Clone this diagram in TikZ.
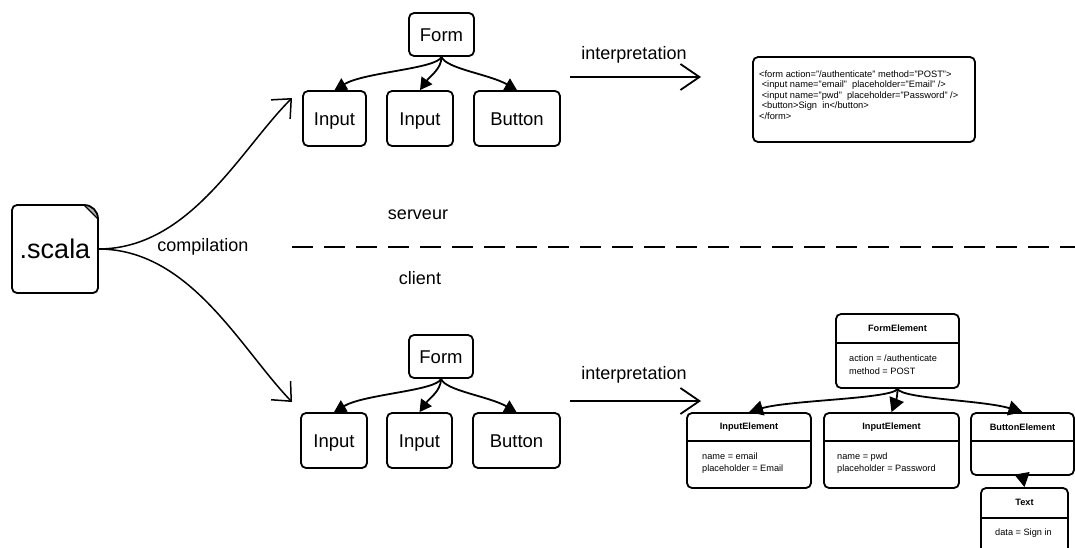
\documentclass[tikz,border=0pt]{standalone}
\usepackage{fontspec}
\setmainfont{Liberation Sans}
\usetikzlibrary{arrows.meta}
\begin{document}
\begin{tikzpicture}[x=1pt,y=-1pt,
  box/.style={draw, line width=1.8pt, rounded corners=5pt, inner sep=0pt, text height=13.3pt, text depth=0pt, font=\fontsize{18.5}{22}\selectfont},
  dbox/.style={draw, line width=1.8pt, rounded corners=5pt, inner sep=0pt},
  divider/.style={line width=1.8pt},
  lbl/.style={inner sep=0pt, font=\fontsize{18}{22}\selectfont},
  small/.style={inner sep=0pt, font=\fontsize{9.2}{12.5}\selectfont, align=left},
  title/.style={inner sep=0pt, font=\fontsize{9.2}{11}\selectfont\bfseries},
  curve/.style={line width=1.5pt, -{Straight Barb[length=15pt,width=27pt,line width=1.5pt]}},
  openarrow/.style={line width=1.8pt, -{Straight Barb[length=19pt,width=26pt,line width=1.8pt]}},
  tree/.style={line width=1.8pt, -{Triangle[length=12pt,width=13pt]}},
  dtree/.style={line width=1.8pt, -{Triangle[length=14pt,width=15pt]}}
]
\clip (0,0) rectangle (1075,548);
\fill[white] (0,0) rectangle (1075,548);

% .scala file
\node[inner sep=0pt, minimum width=86pt, minimum height=88pt, text height=19.5pt, text depth=0pt, font=\fontsize{27}{30}\selectfont] (scala) at (55,249) {.scala};
\fill[gray!60] (84,205) .. controls (92,205) and (98,211) .. (98,219) -- cycle;
\draw[line width=1.8pt, rounded corners=5pt] (84,205) -- (12,205) -- (12,293) -- (98,293) -- (98,219);
\draw[line width=1.8pt] (84,205) .. controls (92,205) and (98,211) .. (98,219);
\draw[line width=1.2pt] (84,205) -- (98,219);

\coordinate (topend) at (292,98);
\coordinate (botend) at (292,402);
\draw[curve] (scala.east) .. controls (190,249) and (240,150) .. (topend);
\draw[curve] (scala.east) .. controls (190,249) and (240,348) .. (botend);
\node[lbl] (comp) at (203,247) {compilation};

% separator
\coordinate (sepL) at (292,247);
\coordinate (sepR) at (1075,247);
\draw[line width=2pt, dash pattern=on 21pt off 11pt] (sepL) -- (sepR);
\node[lbl] (serveur) at (418,215) {serveur};
\node[lbl] (client) at (420,278) {client};

% top tree
\node[box, minimum width=65pt, minimum height=43pt] (f1) at (441.5,34.5) {Form};
\node[box, minimum width=63pt, minimum height=55pt] (a1) at (334.5,118.5) {Input};
\node[box, minimum width=66pt, minimum height=55pt] (b1) at (420,118.5) {Input};
\node[box, minimum width=86pt, minimum height=55pt] (c1) at (517,118.5) {Button};
\draw[tree] (f1.south) .. controls +(-5,12) and +(30,-18) .. (a1.north);
\draw[tree] (f1.south) .. controls +(0,12) and +(10,-14) .. (b1.north);
\draw[tree] (f1.south) .. controls +(5,12) and +(-28,-16) .. (c1.north);

% bottom tree
\node[box, minimum width=64pt, minimum height=43pt] (f2) at (441,356.5) {Form};
\node[box, minimum width=66pt, minimum height=55pt] (a2) at (334,440.5) {Input};
\node[box, minimum width=65pt, minimum height=55pt] (b2) at (419.5,440.5) {Input};
\node[box, minimum width=87pt, minimum height=55pt] (c2) at (516.5,440.5) {Button};
\draw[tree] (f2.south) .. controls +(-5,12) and +(30,-18) .. (a2.north);
\draw[tree] (f2.south) .. controls +(0,12) and +(10,-14) .. (b2.north);
\draw[tree] (f2.south) .. controls +(5,12) and +(-28,-16) .. (c2.north);

% interpretation arrows
\coordinate (i1s) at (570,77);
\coordinate (i1e) at (701,77);
\draw[openarrow] (i1s) -- (i1e);
\node[lbl] (interp1) at (634,55) {interpretation};
\coordinate (i2s) at (570,401);
\coordinate (i2e) at (701,401);
\draw[openarrow] (i2s) -- (i2e);
\node[lbl] (interp2) at (634,375) {interpretation};

% HTML box
\node[dbox, minimum width=222pt, minimum height=85pt] (html) at (864,99.5) {};
\node[small, anchor=north west, font=\fontsize{9.3}{10.4}\selectfont] (htmltext) at (759,70.5)
 {<form action="/authenticate" method="POST">\\
 \ <input name="email"\ \ placeholder="Email" />\\
 \ <input name="pwd"\ \ placeholder="Password" />\\
 \ <button>Sign\ \ in</button>\\
 </form>};

% DOM tree
\node[dbox, minimum width=123pt, minimum height=74pt] (fe) at (897.5,351) {};
\draw[divider] (fe.west |- 0,343) -- (fe.east |- 0,343);
\node[title] (fet) at (897.5,328) {FormElement};
\node[small, anchor=west] (fea) at (849,364.5) {action = /authenticate\\method = POST};

\node[dbox, minimum width=124pt, minimum height=75pt] (ie1) at (749,450.5) {};
\draw[divider] (ie1.west |- 0,441) -- (ie1.east |- 0,441);
\node[title] (ie1t) at (749,427) {InputElement};
\node[small, anchor=west] (ie1a) at (702,463) {name = email\\placeholder = Email};

\node[dbox, minimum width=135pt, minimum height=75pt] (ie2) at (891.5,450.5) {};
\draw[divider] (ie2.west |- 0,441) -- (ie2.east |- 0,441);
\node[title] (ie2t) at (891.5,427) {InputElement};
\node[small, anchor=west] (ie2a) at (837,463) {name = pwd\\placeholder = Password};

\node[dbox, minimum width=103pt, minimum height=62pt] (be) at (1022.5,444) {};
\draw[divider] (be.west |- 0,441) -- (be.east |- 0,441);
\node[title] (bet) at (1022.5,427) {ButtonElement};

\node[dbox, minimum width=87pt, minimum height=72pt] (te) at (1024.5,524) {};
\draw[divider] (te.west |- 0,518) -- (te.east |- 0,518);
\node[title] (tet) at (1024.5,502) {Text};
\node[small, anchor=west] (tea) at (995,533) {data = Sign in};

\draw[dtree] (fe.south) .. controls +(-5,10) and +(40,-12) .. (ie1.north);
\draw[dtree] (fe.south) .. controls +(0,8) and +(4,-10) .. (ie2.north);
\draw[dtree] (fe.south) .. controls +(5,10) and +(-40,-12) .. (be.north);
\draw[dtree] (be.south) -- (te.north);
\end{tikzpicture}
\end{document}
